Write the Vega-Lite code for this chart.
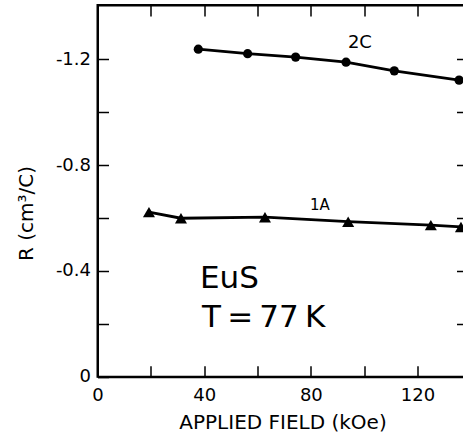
{
  "$schema": "https://vega.github.io/schema/vega-lite/v6.json",
  "width": 370,
  "height": 371.7,
  "autosize": {"type": "none"},
  "padding": {"left": 97.5, "top": 5, "right": 0, "bottom": 57.3},
  "background": "white",
  "config": {
    "font": "DejaVu Sans",
    "view": {"stroke": "black", "strokeWidth": 2},
    "axis": {
      "domainColor": "black", "domainWidth": 2,
      "tickColor": "black", "tickWidth": 1.5, "tickSize": -11,
      "labelColor": "black", "labelFont": "DejaVu Sans", "labelFontSize": 18,
      "labelFlush": false, "labelOverlap": false,
      "titleColor": "black", "titleFont": "DejaVu Sans", "titleFontWeight": "normal",
      "grid": false
    }
  },
  "datasets": {
    "series": [
      {"sample": "2C", "field": 37.8, "R": -1.238},
      {"sample": "2C", "field": 56.3, "R": -1.221},
      {"sample": "2C", "field": 74.3, "R": -1.208},
      {"sample": "2C", "field": 93.2, "R": -1.189},
      {"sample": "2C", "field": 111.3, "R": -1.156},
      {"sample": "2C", "field": 135.6, "R": -1.121},
      {"sample": "1A", "field": 19.3, "R": -0.622},
      {"sample": "1A", "field": 31.3, "R": -0.599},
      {"sample": "1A", "field": 62.8, "R": -0.603},
      {"sample": "1A", "field": 94.0, "R": -0.586},
      {"sample": "1A", "field": 125.0, "R": -0.573},
      {"sample": "1A", "field": 136.3, "R": -0.566}
    ],
    "label2c": [
      {"text": "2C", "field": 98.4, "R": -1.26}
    ],
    "label1a": [
      {"text": "1A", "field": 83.4, "R": -0.649}
    ],
    "note": [
      {"text": "EuS", "field": 38.4, "R": -0.335},
      {"text": "T\u2009=\u200977\u2009K", "field": 39.2, "R": -0.188}
    ]
  },
  "layer": [
    {
      "data": {"name": "series"},
      "mark": {"type": "line", "color": "black", "strokeWidth": 2.8},
      "encoding": {
        "x": {
          "field": "field", "type": "quantitative",
          "scale": {"domain": [0, 138.75], "nice": false, "zero": false},
          "axis": {
            "orient": "bottom",
            "values": [0, 20, 40, 60, 80, 100, 120],
            "labelExpr": "datum.value % 40 == 0 ? toString(datum.value) : ''",
            "labelPadding": 21,
            "title": "APPLIED FIELD (kOe)",
            "titleFontSize": 20,
            "titlePadding": 8
          }
        },
        "y": {
          "field": "R", "type": "quantitative",
          "scale": {"domain": [0, -1.405], "nice": false, "zero": false},
          "axis": {
            "orient": "left",
            "values": [0, -0.2, -0.4, -0.6, -0.8, -1.0, -1.2],
            "labelExpr": "datum.value == -0.4 ? '-0.4' : datum.value == -0.8 ? '-0.8' : datum.value == -1.2 ? '-1.2' : datum.value == 0 ? '0' : ''",
            "labelPadding": 18,
            "title": "R (cm³/C)",
            "titleFontSize": 20,
            "titleX": -71.5,
            "titleY": 208,
            "titleBaseline": "middle",
            "titleAlign": "center",
            "titleAngle": -90
          }
        },
        "detail": {"field": "sample"}
      }
    },
    {
      "data": {"name": "series"},
      "mark": {"type": "point", "filled": true, "opacity": 1, "color": "black"},
      "encoding": {
        "x": {"field": "field", "type": "quantitative", "axis": null},
        "y": {"field": "R", "type": "quantitative", "axis": null},
        "shape": {
          "field": "sample", "type": "nominal",
          "scale": {"domain": ["2C", "1A"], "range": ["circle", "triangle-up"]},
          "legend": null
        },
        "size": {
          "field": "sample", "type": "nominal",
          "scale": {"domain": ["2C", "1A"], "range": [85, 145]},
          "legend": null
        }
      }
    },
    {
      "data": {"name": "label2c"},
      "mark": {"type": "text", "color": "black", "align": "center", "baseline": "middle", "fontSize": 18},
      "encoding": {
        "x": {
          "field": "field", "type": "quantitative",
          "axis": {
            "orient": "top",
            "values": [20, 40, 60, 80, 100, 120],
            "labels": false,
            "title": null
          }
        },
        "y": {
          "field": "R", "type": "quantitative",
          "axis": {
            "orient": "right",
            "values": [-0.2, -0.4, -0.6, -0.8, -1.0, -1.2],
            "labels": false,
            "title": null
          }
        },
        "text": {"field": "text"}
      }
    },
    {
      "data": {"name": "label1a"},
      "mark": {"type": "text", "color": "black", "align": "center", "baseline": "middle", "fontSize": 15},
      "encoding": {
        "x": {"field": "field", "type": "quantitative", "axis": null},
        "y": {"field": "R", "type": "quantitative", "axis": null},
        "text": {"field": "text"}
      }
    },
    {
      "data": {"name": "note"},
      "mark": {"type": "text", "color": "black", "align": "left", "baseline": "alphabetic", "fontSize": 31},
      "encoding": {
        "x": {"field": "field", "type": "quantitative", "axis": null},
        "y": {"field": "R", "type": "quantitative", "axis": null},
        "text": {"field": "text"}
      }
    }
  ],
  "resolve": {"axis": {"x": "independent", "y": "independent"}}
}
